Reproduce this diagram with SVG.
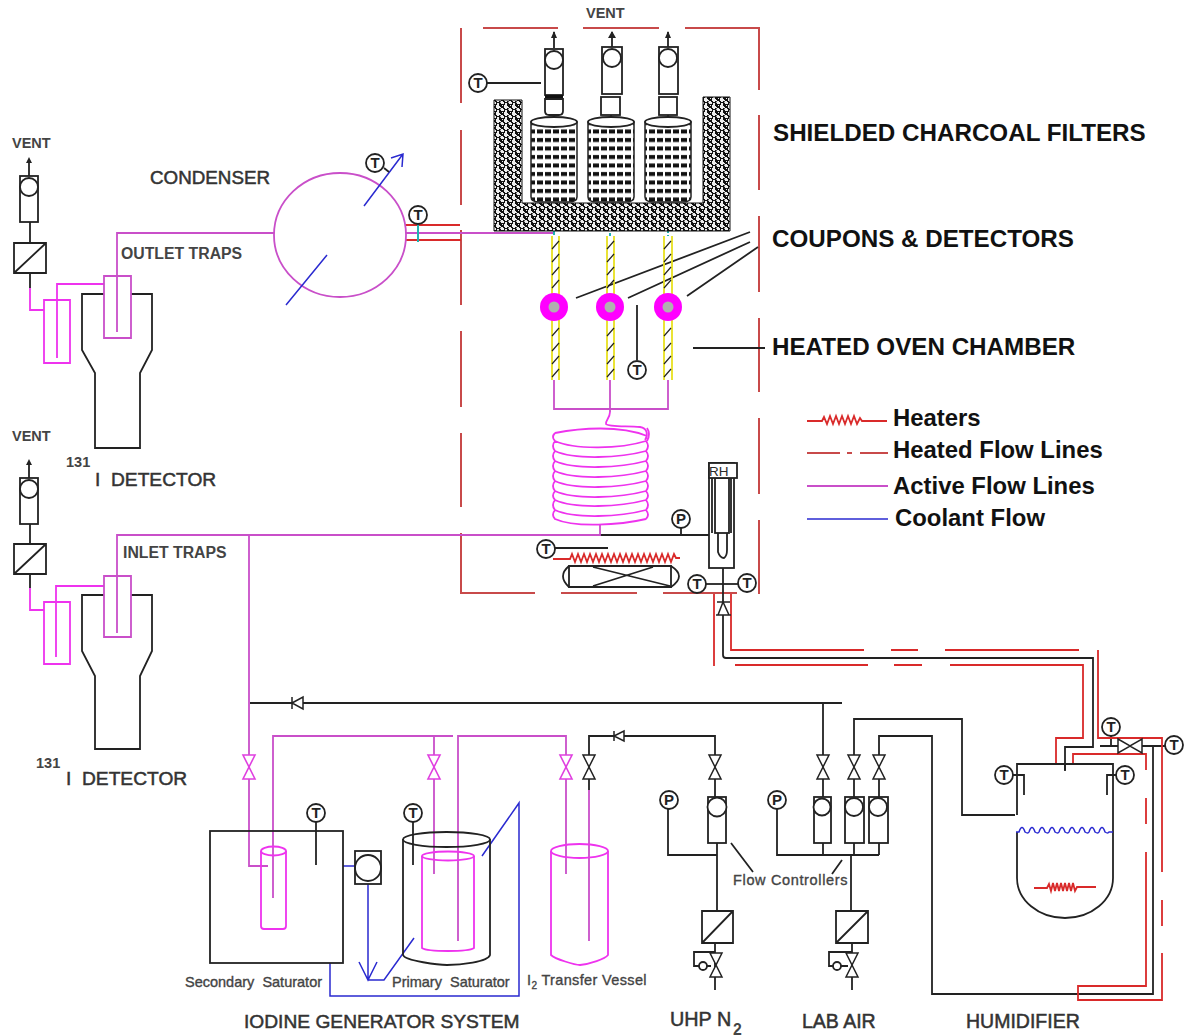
<svg xmlns="http://www.w3.org/2000/svg" width="1186" height="1036" viewBox="0 0 1186 1036">
<style>
text{font-family:"Liberation Sans",Arial,sans-serif;fill:#2a2a2a}
.big{font-weight:bold;font-size:24.2px;fill:#111}
.leg{font-weight:bold;font-size:23.900px;fill:#111}
.mid{font-size:19.200px;fill:#333;stroke:#333;stroke-width:.5}
.sm{font-weight:bold;font-size:15.800px;fill:#444}
.num{font-weight:bold;font-size:14.500px;fill:#444}
.vent{font-weight:bold;font-size:14.500px;fill:#444}
.lab{font-size:14.500px;fill:#444;stroke:#444;stroke-width:.35}
.gt{font-size:15px;font-weight:bold;text-anchor:middle;fill:#222}
.k,.r,.h,.p,.m,.c,.t,.y{fill:none}
.k{stroke:#222;stroke-width:1.8}
.w{fill:#fff;stroke:#222;stroke-width:1.8}
.r{stroke:#d92a2a;stroke-width:1.8}
.h{stroke:#c84a4a;stroke-width:2}
.p{stroke:#c94fc9;stroke-width:1.8}
.m{stroke:#ee33ee;stroke-width:1.8}
.c{stroke:#2a2ad0;stroke-width:1.5}
.t{stroke:#20b2b2;stroke-width:2}
.y{stroke:#e8e020;stroke-width:1.8}
.vk{stroke:#222;stroke-width:1.5;fill:#fff}
.vp{stroke:#e040e0;stroke-width:1.6;fill:#fff}
</style>
<defs>
<pattern id="shield" width="8" height="7" patternUnits="userSpaceOnUse">
<rect width="8" height="7" fill="#111"/>
<path d="M0 0h3v1h1v1h1v1h-2v1h-2v-1h-1zM5 3h2v1h1v2h-3v-1h-1zM1 5h2v2h-2zM6 0h1v1h-1z" fill="#eee"/>
</pattern>
<pattern id="carbon" width="8" height="8.500" patternUnits="userSpaceOnUse">
<rect width="8" height="8.500" fill="#fff"/>
<path d="M1 2h6v4h-6z" fill="#111"/>
</pattern>
<path id="valve" d="M-6-12H6L-6 12H6Z"/>
<path id="hatch" d="M-4 8L3 0"/>
</defs>

<g id="oven-chamber">
<path class="h" d="M461 28V103M461 130V205M461 230V305M461 331V407M461 433V507M461 533V593H535M561 593H637M663 593H737"/>
<path class="h" d="M483 28H558M583 28H659M685 28H759V90M759 115V190M759 216V292M759 318V392M759 418V494M759 520V594"/>
</g>

<g id="connectors">
<path class="p" d="M117 332V233H274M406 233H554"/>
<path class="r" d="M405 225H460M405 240H461"/>
<path class="t" d="M418 224V242"/>
<path class="t" stroke-dasharray="4 2" d="M554 231V236M610 203V236M668 205V236"/>
<path class="p" d="M554 380V409H668V380M610 380V412"/>
<path class="m" d="M610 412C610 418 605 421 606 424C608 427 625 426 640 427C648 428 648 436 645 440"/>
<path class="k" d="M600 535H710"/>
<path class="p" d="M117 633V535H600V525"/>
<path class="k" d="M681 528V535M723 568V655Q723 658 726 658H1093V747H1065V770M1100 746H1118M1142 746H1165M1111 736V746M1153 746V994H932V736H879V755M854 755V719H962V815H1015M823 755V703H842M823 703H250"/>
<path class="r" d="M731 594V650H864M891 650H918M945 650H1079M714 594V666M735 665H868M894 665H922M950 665H1083V738H1056V764M1098 650V738H1162V872M1162 900V926M1162 953V1000H1078V986H1146V852M1146 824V798M1146 770V754H1073V764"/>
<path class="p" d="M249 535V866H268M273 898V736H453M458 941V736H566V874M434 736V874"/>
<path class="k" d="M715 755V736H589V755M589 779V790"/>
<path class="p" d="M589 790V941"/>
<path class="c" d="M343 866H355M368 884V980M359 962L368 980L377 962M368 980H384L414 938M330 963V996H519V803L482 856"/>
<path class="k" d="M823 779V797M854 779V797M879 779V797M715 779V797M823 843V855M854 843V855M879 843V855M777 809V855H879M851 855V911M852 943V990M717 843V911M668 809V855H717M715 943V990"/>
<path class="k" d="M30 222V243M30 523V544M30 273V288M30 574V588"/>
<path class="m" d="M30 288V310H44M57 358V284H104M30 588V610H44M56 657V586H104"/>
<path class="k" d="M29 176V160M29 478V461"/>
<path d="M29 157l-3 6h6zM29 459l-3 6h6z" fill="#222"/>
<path class="k" stroke-width="1.200" d="M731 843L753 872M842 860L832 874"/>
<path class="k" stroke-width="1.400" d="M576 298L750 232M628 298L750 242M687 296L758 247M693 348H765"/>
</g>

<g id="legend">
<path class="r" stroke-width="1.200" d="M807 421H822l2-4 3 7 3-8 3 8 3-8 3 8 3-8 3 8 3-8 3 8 3-8 3 8 3-6 2 3H887"/>
<path class="h" d="M807 453H840M847 453H852M860 453H888"/>
<path class="p" d="M807 486H888"/>
<path class="c" d="M807 519H888"/>
<text class="leg" x="893" y="426">Heaters</text>
<text class="leg" x="893" y="458">Heated Flow Lines</text>
<text class="leg" x="893" y="494">Active Flow Lines</text>
<text class="leg" x="895" y="526">Coolant Flow</text>
</g>

<g id="labels">
<text class="big" x="773" y="141">SHIELDED CHARCOAL FILTERS</text>
<text class="big" x="772" y="247">COUPONS &amp; DETECTORS</text>
<text class="big" x="772" y="355">HEATED OVEN CHAMBER</text>
<text class="vent" x="586" y="18">VENT</text>
<text class="vent" x="12" y="148">VENT</text>
<text class="vent" x="12" y="441">VENT</text>
<text class="mid" x="150" y="184" font-size="18.800" style="font-size:18.800px">CONDENSER</text>
<text class="sm" x="121" y="259">OUTLET TRAPS</text>
<text class="sm" x="123" y="558">INLET TRAPS</text>
<text class="num" x="66" y="467">131</text>
<text class="mid" xml:space="preserve" x="95" y="486">I  DETECTOR</text>
<text class="num" x="36" y="768">131</text>
<text class="mid" xml:space="preserve" x="66" y="785">I  DETECTOR</text>
<text class="lab" xml:space="preserve" x="185" y="987">Secondary  Saturator</text>
<text class="lab" xml:space="preserve" x="392" y="987">Primary  Saturator</text>
<text class="lab" x="527" y="985" letter-spacing=".35">I<tspan font-size="10" dy="4">2</tspan><tspan dy="-4"> Transfer Vessel</tspan></text>
<text class="lab" x="733" y="885" letter-spacing=".65">Flow Controllers</text>
<text class="mid" x="244" y="1028">IODINE GENERATOR SYSTEM</text>
<text class="mid" x="670" y="1026" style="font-size:19.800px">UHP N</text>
<text class="sm" x="733" y="1035">2</text>
<text class="mid" x="802" y="1028" style="font-size:19.500px">LAB AIR</text>
<text class="mid" x="966" y="1028" style="font-size:19.500px">HUMIDIFIER</text>
</g>

<g id="filter-shield">
<path d="M494 100H522V203H703V97H730V231H494Z" fill="url(#shield)" stroke="#111"/>
</g>

<g id="charcoal-filters">
<g id="filter-1"><path d="M531 122V197Q531 202 540 202H568Q577 202 577 197V122Z" fill="url(#carbon)" stroke="#222" stroke-width="1.500"/><ellipse class="w" cx="554" cy="122" rx="23" ry="5"/></g>
<g id="filter-2"><path d="M588 122V197Q588 202 597 202H625Q634 202 634 197V122Z" fill="url(#carbon)" stroke="#222" stroke-width="1.500"/><ellipse class="w" cx="611" cy="122" rx="23" ry="5"/></g>
<g id="filter-3"><path d="M645 122V197Q645 202 654 202H682Q691 202 691 197V122Z" fill="url(#carbon)" stroke="#222" stroke-width="1.500"/><ellipse class="w" cx="668" cy="122" rx="23" ry="5"/></g>
</g>

<g id="filter-meters">
<path class="k" d="M554 48V32M612 47V32M668 47V32M554 115V118M611 115V118M668 115V118"/>
<path d="M554 31l-3 7h6zM612 31l-4 7h8zM668 31l-3 7h6z" fill="#222"/>
<rect class="w" x="545" y="49" width="18" height="46"/><circle class="w" cx="554" cy="60" r="9"/>
<rect x="545" y="95" width="18" height="4" fill="#111"/>
<path class="w" d="M545 99H563V111Q563 115 559 115H549Q545 115 545 111Z"/>
<rect class="w" x="602" y="47" width="20" height="47"/><circle class="w" cx="612" cy="58" r="9"/>
<rect class="w" x="601" y="97" width="19" height="18"/>
<rect class="w" x="659" y="47" width="19" height="47"/><circle class="w" cx="668" cy="58" r="9"/>
<rect class="w" x="659" y="97" width="18" height="18"/>
<path class="k" d="M487 83H541"/>
</g>

<g id="coupons">
<path class="y" d="M552 236V296M559 236V296M607 236V296M614 236V296M664 236V296M672 236V296M552 320V380M559 320V380M607 320V380M614 320V380M664 320V380M672 320V380"/>
<g fill="none" stroke="#222" stroke-width="1.200">
<use href="#hatch" x="556" y="241"/><use href="#hatch" x="611" y="241"/><use href="#hatch" x="668" y="241"/>
<use href="#hatch" x="556" y="254"/><use href="#hatch" x="611" y="254"/><use href="#hatch" x="668" y="254"/>
<use href="#hatch" x="556" y="267"/><use href="#hatch" x="611" y="267"/><use href="#hatch" x="668" y="267"/>
<use href="#hatch" x="556" y="280"/><use href="#hatch" x="611" y="280"/><use href="#hatch" x="668" y="280"/>
<use href="#hatch" x="556" y="328"/><use href="#hatch" x="611" y="328"/><use href="#hatch" x="668" y="328"/>
<use href="#hatch" x="556" y="343"/><use href="#hatch" x="611" y="343"/><use href="#hatch" x="668" y="343"/>
<use href="#hatch" x="556" y="356"/><use href="#hatch" x="611" y="356"/><use href="#hatch" x="668" y="356"/>
<use href="#hatch" x="556" y="369"/><use href="#hatch" x="611" y="369"/><use href="#hatch" x="668" y="369"/>
</g>
<g fill="#ff00ff"><circle cx="554" cy="307" r="14"/><circle cx="610" cy="307" r="14"/><circle cx="668" cy="307" r="14"/></g>
<g fill="#b0b0b0"><circle cx="554" cy="307" r="5.500"/><circle cx="610" cy="307" r="5.500"/><circle cx="668" cy="307" r="5.500"/></g>
</g>

<g id="condenser">
<ellipse cx="340" cy="235" rx="66" ry="62" fill="#fff" class="p"/>
<path class="c" d="M364 206L403 154M391 158L403 154L402 167M327 255L286 305"/>
<path class="k" stroke-width="1" d="M384 168L389 172"/>
</g>

<g id="coil">
<path class="m" d="M555 433C580 428 620 425 647 436M647 428Q651 434 647 441"/>
<path class="m" d="M555 433Q551 437 555 441C575 450 620 449 646 441Q650 446 646 451M555 441Q551 446 555 451C575 460 620 458 646 451Q650 456 646 461M555 451Q551 456 555 461C575 470 620 468 646 461Q650 466 646 471M555 461Q551 466 555 471C575 480 620 478 646 471Q650 476 646 481M555 471Q551 476 555 481C575 490 620 488 646 481Q650 486 646 491M555 481Q551 486 555 491C575 500 620 498 646 491Q650 496 646 500M555 491Q551 496 555 500C575 509 620 507 646 500Q650 505 646 510M555 500Q551 505 555 510C575 519 620 517 646 510Q650 515 646 519M555 510Q551 515 555 519C575 528 620 525 646 519"/>
</g>

<g id="heater-fan">
<path class="r" stroke-width="1.300" d="M553 559H570l2-5 3 8 3-8 3 8 3-8 3 8 3-8 3 8 3-8 3 8 3-8 3 8 3-8 3 8 3-8 3 8 3-8 3 8 3-8 3 8 3-8 3 8 3-8 3 8 3-8 3 8 3-8 3 8 3-8 3 8 3-8 3 8 3-8 3 8 3-8 2 4H680"/>
<path class="k" d="M569 566H671V587H569Z"/>
<path class="k" d="M593 567L670 586M653 567L593 586M569 566Q557 576 569 587M671 566Q687 576 671 587"/>
<path class="k" d="M555 548H608"/>
</g>

<g id="rh-sensor">
<rect class="w" x="709" y="463" width="25" height="105"/>
<rect class="w" x="715" y="478" width="14" height="55"/>
<path class="k" d="M712 478V533M731 478V533"/>
<path class="k" d="M718 533V552Q720 558 724 558Q727 556 727 550V533"/>
<rect class="w" x="709" y="463" width="28" height="15"/>
<text x="709" y="476" font-size="13.500" fill="#222">RH</text>
</g>

<g id="check-valves" class="vk">
<path d="M723 602L718 615H729ZM717 602H730M716 615H731"/>
<path d="M292 703L303 697V709ZM292 697V709M303 697V709"/>
<path d="M614 736L624 731V741ZM614 731V741"/>
</g>

<g id="valves">
<g class="vp">
<use href="#valve" x="249" y="767"/><use href="#valve" x="434" y="767"/><use href="#valve" x="566" y="767"/>
</g>
<g class="vk">
<use href="#valve" x="589" y="767"/><use href="#valve" x="715" y="767"/><use href="#valve" x="823" y="767"/><use href="#valve" x="854" y="767"/><use href="#valve" x="879" y="767"/>
<use href="#valve" x="716" y="965"/><use href="#valve" x="852" y="965"/>
<path d="M1118 739L1130 746L1142 739V753L1130 746L1118 753Z"/>
</g>
</g>

<g id="regulators" class="k">
<path d="M715 952H694V966H699M703 966H711M852 952H829V966H833M841 966H848"/>
<circle cx="703" cy="966" r="4" fill="#fff"/><circle cx="837" cy="966" r="4" fill="#fff"/>
</g>

<g id="flow-controllers">
<rect class="w" x="708" y="797" width="18" height="46"/><circle class="w" cx="717" cy="807" r="9.500"/>
<rect class="w" x="814" y="797" width="17" height="46"/><circle class="w" cx="822" cy="807" r="8.500"/>
<rect class="w" x="845" y="797" width="19" height="46"/><circle class="w" cx="854" cy="807" r="9"/>
<rect class="w" x="869" y="797" width="19" height="46"/><circle class="w" cx="878" cy="807" r="9"/>
</g>

<g id="gas-filters">
<path class="w" d="M702 911H733V943H702ZM702 943L733 911"/>
<path class="w" d="M836 911H868V943H836ZM836 943L868 911"/>
<path class="w" d="M14 243H46V273H14ZM14 273L46 243"/>
<path class="w" d="M14 544H46V574H14ZM14 574L46 544"/>
</g>

<g id="vent-meters">
<rect class="w" x="20" y="176" width="18" height="46"/><circle class="w" cx="29" cy="187" r="9"/>
<rect class="w" x="20" y="478" width="18" height="46"/><circle class="w" cx="29" cy="489" r="9"/>
</g>

<g id="detector-outlet">
<path class="k" d="M104 294H82V350L95 373V448H140V373L152 350V294H131"/>
<path class="m" d="M44 300H70V363H44Z"/>
<path class="p" d="M104 276H131V338H104Z"/>
</g>
<g id="detector-inlet">
<path class="k" d="M104 595H82V651L95 676V749H140V676L152 651V595H131"/>
<path class="p" d="M104 576H131V637H104Z"/>
<path class="m" d="M44 602H70V664H44Z"/>
</g>

<g id="secondary-saturator">
<rect class="k" x="210" y="831" width="133" height="132"/>
<path class="m" d="M261 851V926Q261 929 264 929H283Q286 929 286 926V851"/>
<ellipse class="m" cx="273.500" cy="851" rx="12.500" ry="4.500"/>
<path class="k" d="M316 822V865"/>
</g>
<g id="pump">
<rect class="k" x="355" y="851" width="26" height="33"/>
<circle class="k" cx="368" cy="868" r="13"/>
</g>
<g id="primary-saturator">
<path class="k" d="M403 839V955C405 961 440 965 447 965C460 965 488 962 490 955V839"/>
<ellipse class="k" cx="446.500" cy="839.500" rx="43.500" ry="7.500"/>
<path class="m" d="M422 856V948C428 952 468 952 474 948V856"/>
<ellipse class="m" cx="448" cy="856" rx="26" ry="4.500"/>
<path class="k" d="M413 822V865"/>
</g>
<g id="transfer-vessel">
<path class="m" d="M551 851V955C555 959 575 965 580 965C590 964 605 959 608 955V851"/>
<ellipse class="m" cx="579.500" cy="851" rx="28.500" ry="7"/>
</g>

<g id="humidifier">
<path class="k" d="M1017 815V764H1113V878A48 40 0 0 1 1017 878V832"/>
<path class="k" d="M1013 775H1024V795M1116 775H1107V795"/>
<path class="k" d="M1065 764V771"/>
<path class="c" d="M1016 832h3q3-9 6 0q3 2 4 0q3-9 6 0q3 2 4 0q3-9 6 0q3 2 4 0q3-9 6 0q3 2 4 0q3-9 6 0q3 2 4 0q3-9 6 0q3 2 4 0q3-9 6 0q3 2 4 0q3-9 6 0q3 2 4 0q3-9 6 0q3 2 4 0h4"/>
<path class="r" stroke-width="1.200" d="M1034 888H1047l2-4 2 7 2-8 2 8 2-8 2 8 2-8 2 8 2-8 2 8 2-8 2 8 2-8 2 8 2-4H1096"/>
</g>

<g id="gauges">
<g id="t1"><circle class="w" cx="478" cy="83" r="9"/><text class="gt" x="478" y="88">T</text></g>
<g id="t2"><circle class="w" cx="375" cy="163" r="9"/><text class="gt" x="375" y="168">T</text></g>
<g id="t3"><circle class="w" cx="418" cy="215" r="9"/><text class="gt" x="418" y="220">T</text></g>
<g id="t4"><path class="k" d="M637 305V360"/><circle class="w" cx="637" cy="370" r="9"/><text class="gt" x="637" y="375">T</text></g>
<g id="t5"><circle class="w" cx="546" cy="549" r="9"/><text class="gt" x="546" y="554">T</text></g>
<g id="t6"><path class="k" d="M706 584H738"/><circle class="w" cx="697" cy="584" r="9"/><text class="gt" x="697" y="589">T</text></g>
<g id="t7"><circle class="w" cx="747" cy="583" r="9"/><text class="gt" x="747" y="588">T</text></g>
<g id="t8"><circle class="w" cx="316" cy="813" r="9"/><text class="gt" x="316" y="818">T</text></g>
<g id="t9"><circle class="w" cx="413" cy="813" r="9"/><text class="gt" x="413" y="818">T</text></g>
<g id="t10"><circle class="w" cx="1004" cy="775" r="9"/><text class="gt" x="1004" y="780">T</text></g>
<g id="t11"><circle class="w" cx="1125" cy="775" r="9"/><text class="gt" x="1125" y="780">T</text></g>
<g id="t12"><circle class="w" cx="1111" cy="727" r="9"/><text class="gt" x="1111" y="732">T</text></g>
<g id="t13"><circle class="w" cx="1174" cy="745" r="9"/><text class="gt" x="1174" y="750">T</text></g>
<g id="p1"><circle class="w" cx="681" cy="519" r="9"/><text class="gt" x="681" y="524">P</text></g>
<g id="p2"><circle class="w" cx="669" cy="800" r="9"/><text class="gt" x="669" y="805">P</text></g>
<g id="p3"><circle class="w" cx="777" cy="800" r="9"/><text class="gt" x="777" y="805">P</text></g>
</g>
</svg>
